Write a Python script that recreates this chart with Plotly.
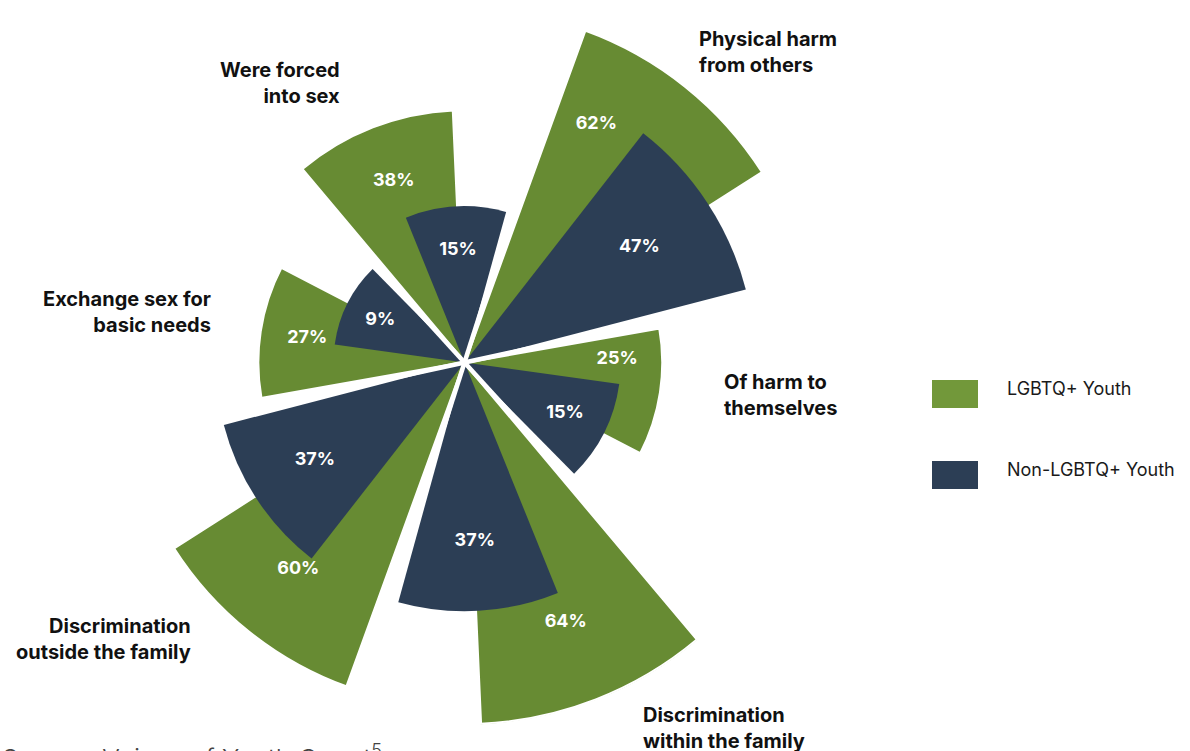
import plotly.graph_objects as go

# ---------------- data ----------------
categories = [
    "Physical harm<br>from others",
    "Of harm to<br>themselves",
    "Discrimination<br>within the family",
    "Discrimination<br>outside the family",
    "Exchange sex for<br>basic needs",
    "Were forced<br>into sex",
]
lgbtq = [62, 25, 64, 60, 27, 38]
non_lgbtq = [47, 15, 37, 37, 9, 15]
series_names = ["LGBTQ+ Youth", "Non-LGBTQ+ Youth"]
source_text = "Source: Voices of Youth Count<sup>5</sup>"

# ---------------- style / layout constants ----------------
W, H = 1190, 751
GREEN = "#678B33"
GREEN_LEG = "#72983A"
NAVY = "#2C3E55"
FONT = "Inter"


def px(x):
    return x / W


def py(y):
    return 1 - y / H


CX, CY, RAD = 464.5, 362.5, 362.5      # polar centre / frame radius (px)
SCALE = 4.2                            # px per percentage point
BASE = -22.2                           # radial value at the centre
RMAX = BASE + RAD / SCALE
START, STEP, OFFSET, WIDTH = 47.7, 60.0, 9.0, 37.5

n = len(categories)
sector = [START + STEP * i for i in range(n)]
g_theta = [s - OFFSET for s in sector]
n_theta = [s + OFFSET for s in sector]

fig = go.Figure()

fig.add_trace(go.Barpolar(
    r=[v - BASE for v in lgbtq], base=BASE, theta=g_theta, width=WIDTH,
    marker=dict(color=GREEN, line=dict(color="white", width=3)),
    name=series_names[0], customdata=lgbtq,
    text=[c.replace("<br>", " ") for c in categories],
    hovertemplate="%{text}<br>" + series_names[0] + ": %{customdata}%<extra></extra>",
))
fig.add_trace(go.Barpolar(
    r=[v - BASE for v in non_lgbtq], base=BASE, theta=n_theta, width=WIDTH,
    marker=dict(color=NAVY, line=dict(width=0)),
    name=series_names[1], customdata=non_lgbtq,
    text=[c.replace("<br>", " ") for c in categories],
    hovertemplate="%{text}<br>" + series_names[1] + ": %{customdata}%<extra></extra>",
))

# white separators through the centre (between category sectors)
for s in sector:
    fig.add_trace(go.Scatterpolar(
        r=[BASE, BASE + 16], theta=[s + STEP / 2] * 2, mode="lines",
        line=dict(color="white", width=4.5), hoverinfo="skip",
        showlegend=False,
    ))

# value labels
g_lab_r, g_lab_t = [], []
for i, (gv, nv) in enumerate(zip(lgbtq, non_lgbtq)):
    lr = BASE + 0.77 * (gv - BASE)
    g_lab_r.append(lr)
    if lr < nv + 3:
        g_lab_t.append(sector[i] - WIDTH / 2)   # middle of the green-only part
    else:
        g_lab_t.append(g_theta[i])
n_lab_r = [BASE + 0.72 * (v - BASE) for v in non_lgbtq]

fig.add_trace(go.Scatterpolar(
    r=g_lab_r + n_lab_r, theta=g_lab_t + n_theta, mode="text",
    text=[f"<b>{v}%</b>" for v in lgbtq + non_lgbtq],
    textfont=dict(color="white", size=18, family=FONT),
    hoverinfo="skip", showlegend=False,
))

fig.update_layout(
    width=W, height=H,
    margin=dict(l=0, r=0, t=0, b=0),
    paper_bgcolor="white", plot_bgcolor="white",
    showlegend=False,
    polar=dict(
        domain=dict(x=[px(CX - RAD), px(CX + RAD)],
                    y=[py(CY + RAD), py(CY - RAD)]),
        bgcolor="rgba(0,0,0,0)",
        barmode="overlay",
        angularaxis=dict(rotation=90, direction="clockwise", visible=False,
                         showgrid=False),
        radialaxis=dict(range=[BASE, RMAX], visible=False, showgrid=False),
    ),
)

# category labels (x px, y px centre, anchor)
label_pos = [
    (697, 52, "left"),
    (722, 395, "left"),
    (641, 728, "left"),
    (193, 639, "right"),
    (213, 312, "right"),
    (342, 83, "right"),
]
for cat, (x, y, anc) in zip(categories, label_pos):
    fig.add_annotation(
        x=px(x), y=py(y), xref="paper", yref="paper",
        xanchor=anc, yanchor="middle", align=anc, showarrow=False,
        text=f"<b>{cat}</b>", font=dict(size=20, color="#111111", family=FONT),
    )

# legend
legend_items = [(series_names[0], GREEN_LEG, 380), (series_names[1], NAVY, 461)]
for name, col, y in legend_items:
    fig.add_shape(type="rect", xref="paper", yref="paper",
                  x0=px(932), x1=px(978), y0=py(y + 28), y1=py(y),
                  fillcolor=col, line=dict(width=0))
    fig.add_annotation(x=px(1005), y=py(y + 8), xref="paper", yref="paper",
                       xanchor="left", yanchor="middle", showarrow=False,
                       text=name, font=dict(size=18, color="#1a1a1a", family=FONT))

fig.add_annotation(x=0, y=py(737), xref="paper", yref="paper",
                   xanchor="left", yanchor="top", showarrow=False,
                   text=source_text,
                   font=dict(size=26, color="#444444", family=FONT, weight=300))

fig.write_html("out.html", config={"displayModeBar": False},
               post_script="document.body.style.margin='0px';")
